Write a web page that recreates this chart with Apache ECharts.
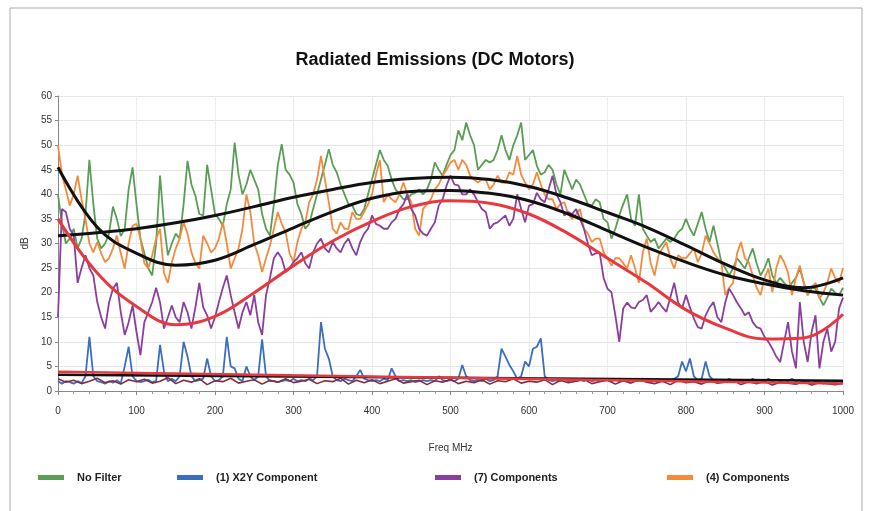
<!DOCTYPE html>
<html>
<head>
<meta charset="utf-8">
<script src="https://cdn.jsdelivr.net/npm/echarts@6/dist/echarts.min.js"></script>
<style>
  html, body { margin: 0; padding: 0; background: #fff; }
  #chart { width: 870px; height: 511px; }
</style>
</head>
<body>
<div id="chart"></div>
<script>
// 频率步长 (MHz)
const stepMHz = 5
const trendStep = 50

// No Filter, 0..1000 MHz every 5 MHz
const noFilter = [
  40, 34, 30, 31, 33, 29, 31, 36, 47, 38, 31, 29, 30, 32, 37.5, 35, 31.5, 33, 41, 45.5,
  38, 31, 28, 25, 23.5, 30, 43.8, 34, 27.6, 30, 32, 31, 38, 46.8, 42, 39.7, 36, 35.7, 46, 41,
  36, 35, 33.6, 38, 41, 50.5, 44, 40, 42, 45, 43, 41, 36, 33, 31.6, 38, 46, 50.2, 45, 44,
  42.4, 38, 36, 33, 34, 37, 40, 43, 46, 49.2, 46, 44.5, 42, 40, 38, 37.7, 36, 35.7, 37, 40,
  43, 46, 49, 47, 45.8, 43, 41, 40, 39, 39, 40, 40.3, 41, 40, 41, 43, 46.5, 45, 43.8, 46,
  48, 49, 53, 51, 54.6, 52, 50, 45, 46, 47, 46.5, 47, 49, 52, 49, 47, 50, 52, 54.6, 47,
  48, 49, 45.8, 44, 44.5, 46, 45, 42, 40, 45, 43, 41, 43, 42, 40, 38, 37.7, 39, 38.4, 35,
  34.3, 31, 33, 35.7, 38, 40, 35, 33.6, 40, 33, 31.6, 30.3, 31, 29, 30, 31, 30.3, 31, 32.3, 33,
  35, 33, 31.6, 34, 36.4, 33, 30.3, 33.6, 30, 26.2, 25, 23.5, 25, 27, 26, 24.9, 27, 29, 26, 23.5,
  25, 27, 23.5, 22, 23, 22, 21, 22, 23, 24.9, 22, 19.5, 21, 20.8, 19, 17.4, 19, 20.8, 20, 19.5,
  21
]

// (1) X2Y Component
const x2yComponent = [
  2, 1.5, 2, 1.8, 1.5, 2, 1.6, 3, 11, 3, 2, 1.8, 1.5, 2, 1.7, 2.2, 1.6, 5, 9, 3,
  2, 1.8, 2, 2.3, 1.8, 2, 9.4, 4, 2, 2.5, 2, 3, 10, 7, 3, 2, 2.2, 2.5, 6.6, 3,
  2, 2.2, 3, 11, 5, 4.6, 2.5, 2, 5, 3, 2.2, 3, 10.5, 3, 2, 2, 1.8, 2, 2.2, 2,
  2.5, 2, 2.2, 2, 2.5, 2.2, 3, 14, 8.6, 6.6, 3, 2.2, 2, 2.5, 2.2, 2, 3, 4.3, 2.5, 2.2,
  2, 2.2, 2, 2.5, 2.2, 4.6, 3, 2, 2.2, 2, 2.2, 1.8, 2, 2.2, 2, 2.2, 2, 3, 2.2, 2,
  2.2, 2, 2.5, 5.3, 3, 2.2, 2, 2.2, 2, 2.5, 2, 2.2, 3, 8.6, 7, 5.3, 4, 2.5, 3, 6,
  5, 8.6, 9, 10.7, 3, 2.2, 2, 2.2, 2, 2.5, 2, 2.2, 2, 2.2, 2, 2.5, 2, 2.2, 2, 2.5,
  2.2, 2, 2.5, 2, 2.2, 2, 2.2, 2, 2.2, 2.5, 2, 2.2, 2, 2.5, 2, 2.2, 2, 2.5, 3, 6,
  4, 6.6, 3, 2.2, 2.5, 6, 3, 2.2, 2, 2.2, 2, 2.5, 2, 2.2, 2, 2.2, 2, 2.5, 2, 2.2,
  2, 2.5, 2, 2.2, 2, 2.2, 2, 2.5, 2, 2.2, 1.8, 2, 1.5, 2, 1.8, 1.5, 2, 1.6, 1.8, 1.5,
  1.8
]

// (7) Components
const sevenComponents = [
  15, 37, 36.4, 33, 31.6, 22, 25, 27.6, 25, 23.5, 18.1, 15, 12.7, 18, 20.8, 22, 16, 11.4, 14, 17.4,
  12, 7.3, 14, 16, 18.1, 21, 18, 12.7, 15, 17.4, 15, 14, 18.1, 16, 12.7, 17, 22, 17, 15.4, 12.7,
  15, 18.1, 21, 23.5, 19.5, 16, 12.7, 16, 18.1, 15.4, 19.5, 14, 11.4, 19.5, 23, 27, 28.2, 27, 24.2, 25,
  26.2, 27, 28.2, 26, 24.9, 28.2, 30, 31, 29, 28.2, 30.3, 29, 28.2, 30, 31, 29, 27.6, 30.3, 32, 33,
  35.7, 34, 33.6, 33, 33, 34.3, 35, 37, 38, 40, 37, 35.7, 33, 32, 31.6, 33, 34.3, 37.7, 39, 41.8,
  43.8, 42, 41.8, 40, 40, 41, 40, 38.4, 37, 36.4, 33, 34, 34.3, 35, 35.7, 33.6, 35, 40, 37, 34.3,
  37.7, 38, 40.3, 39, 38.4, 41, 43.8, 40, 38.4, 35.7, 36.4, 36, 37, 35, 33, 30, 27.6, 28, 28.2, 23,
  20.8, 20.1, 15.4, 10, 16.8, 18, 17, 16.8, 18.1, 18.5, 19.5, 16.1, 17, 18.1, 17, 16.1, 19, 22, 18, 16.8,
  19.5, 17, 14.7, 13, 12.7, 15.4, 17, 18.1, 15, 14, 18, 20.8, 19.5, 18, 16.8, 15.4, 16, 14, 13, 12.7,
  11, 10, 8.6, 7, 5.9, 10, 14, 8, 4.6, 18.1, 10, 5.9, 12, 15.4, 4.6, 10, 12.7, 8, 10, 16.8,
  19
]

// (4) Components
const fourComponents = [
  50, 44, 41, 37.7, 40, 43.8, 39, 35, 30, 28.2, 30.3, 28, 26.2, 27, 29, 31.6, 28, 24.9, 30, 33.6,
  34, 31, 26, 24.9, 27.6, 31, 33, 24, 22, 26.2, 29, 31, 34.3, 32, 28.2, 26, 24.9, 31.6, 30, 28.2,
  29, 31, 34.3, 30, 24.9, 27, 29, 33, 40, 36.4, 30, 27.6, 24.2, 27, 29.6, 33, 36.4, 34, 32.3, 28,
  26.2, 30.3, 33, 34.3, 38.4, 40, 43, 47.8, 43, 38.4, 33, 32, 34.3, 33, 33, 36.4, 35, 35, 36.4, 38,
  40, 44, 47, 38.4, 40, 39, 38.4, 40, 42.4, 40, 38.4, 33, 31.6, 37, 38, 39, 41, 42, 43.8, 45,
  46.5, 47, 45, 47, 46, 43.8, 43, 42.4, 43, 43, 41, 42, 43.8, 42.4, 42.4, 44.5, 44, 47.8, 44, 42.4,
  41, 42, 44.5, 42, 40, 39, 39, 37, 38, 38.4, 36, 35, 36, 37, 33, 32, 30.3, 31, 31, 28.2,
  27, 25.5, 27, 27, 26, 24.9, 27.6, 25, 22, 28.2, 31, 26, 23.5, 27.6, 29, 30.3, 27, 24.9, 27.6, 27,
  27, 28, 29, 26.2, 28, 31.6, 30, 28.2, 27, 26.2, 19.5, 21, 22, 28, 30.3, 27, 26.2, 23.5, 21, 19.5,
  23, 24.9, 20.1, 25, 27.6, 26.2, 24, 19.5, 23, 25.5, 22, 19.5, 21, 22, 18.8, 20, 22, 24.9, 23, 22,
  25
]

// 底部噪声 (no legend entry), every 10 MHz
const floorStep = 10
const floorTrace = [
  2.5, 1.8, 2.2, 1.5, 2.0, 2.6, 1.7, 2.1, 1.4, 2.3, 1.9, 2.4, 1.6, 2.0, 2.7, 1.5, 2.2, 1.8, 2.5, 1.3,
  2.1, 1.9, 2.6, 1.6, 2.0, 2.3, 1.4, 2.2, 1.8, 2.5, 1.7, 2.0, 2.4, 1.5, 2.1, 1.9, 2.6, 1.4, 2.2, 1.7,
  2.3, 1.5, 2.0, 2.5, 1.6, 1.9, 2.2, 1.3, 2.1, 1.8, 2.4, 1.5, 2.0, 1.7, 2.3, 1.4, 2.1, 1.9, 2.5, 1.6,
  2.0, 1.8, 2.3, 1.3, 2.2, 1.7, 2.0, 2.4, 1.5, 1.9, 2.2, 1.4, 2.1, 1.6, 2.3, 1.8, 1.5, 2.0, 1.3, 2.2,
  1.7, 1.9, 1.4, 2.1, 1.6, 1.8, 2.2, 1.3, 1.9, 1.5, 2.0, 1.2, 1.8, 1.6, 1.4, 1.9, 1.2, 1.7, 1.5, 1.3,
  1.6
]

// 趋势线 every 50 MHz
const trendNoFilter = [31.6, 32.2, 33, 34.2, 35.7, 37.5, 39.4, 41, 42.4, 43.2, 43.5, 43, 41.6, 39.2, 36.3, 33.3, 29.6, 25.8, 22.6, 21, 23]
const trendFour = [45.5, 33.3, 28, 25.6, 26.6, 29.8, 33.2, 36.5, 39.2, 40.6, 40.8, 40.2, 38.7, 36, 32.6, 29.2, 26.2, 23.6, 21.8, 20.4, 19.5]
const trendSeven = [35, 24, 17.2, 13.5, 15.2, 20, 25.5, 30.5, 34.5, 37.5, 38.7, 38.2, 36, 32, 27, 22, 16.5, 12.8, 10.6, 10.8, 15.6]
// low level trends every 250 MHz
const lowStep = 250
const trendX2Y = [3.3, 3.0, 2.7, 2.4, 2.1]
const trendFloor = [3.9, 3.3, 2.7, 2.1, 1.5]

const toPairs = (arr, step) => arr.map((v, i) => [i * step, v])

const dom = document.getElementById('chart')
const myChart = echarts.init(dom)

const font = 'Liberation Sans, Arial, sans-serif'
const legendBase = {
  bottom: 23,
  icon: 'rect',
  itemWidth: 26,
  itemHeight: 5,
  itemGap: 0,
  textStyle: { fontFamily: font, fontSize: 11, fontWeight: 'bold', color: '#222', padding: [0, 0, 0, 8] }
}

const option = {
  animation: false,
  backgroundColor: '#fff',
  title: {
    text: 'Radiated Emissions (DC Motors)',
    left: 'center',
    top: 46,
    textStyle: { fontFamily: font, fontSize: 18, fontWeight: 'bold', color: '#111' }
  },
  graphic: [{
    type: 'rect',
    shape: { x: 10, y: 8, width: 852, height: 520 },
    style: { fill: 'none', stroke: '#aaa', lineWidth: 1 },
    silent: true
  }],
  legend: [
    Object.assign({ left: 33, data: ['No Filter'] }, legendBase),
    Object.assign({ left: 172, data: ['(1) X2Y Component'] }, legendBase),
    Object.assign({ left: 430, data: ['(7) Components'] }, legendBase),
    Object.assign({ left: 662, data: ['(4) Components'] }, legendBase)
  ],
  grid: { left: 58, right: 27, top: 96, bottom: 120 },
  xAxis: {
    type: 'value',
    min: 0,
    max: 1000,
    interval: 100,
    name: 'Freq MHz',
    nameLocation: 'middle',
    nameGap: 52,
    nameTextStyle: { fontFamily: font, fontSize: 10, color: '#333' },
    axisLine: { lineStyle: { color: '#888' } },
    axisTick: { show: true, length: 4, lineStyle: { color: '#888' } },
    minorTick: { show: true, splitNumber: 5, length: 3, lineStyle: { color: '#999' } },
    axisLabel: { fontFamily: font, fontSize: 10, color: '#333', margin: 15, formatter: (v) => String(v) },
    splitLine: { show: true, lineStyle: { color: '#ececec' } }
  },
  yAxis: {
    type: 'value',
    min: 0,
    max: 60,
    interval: 5,
    name: 'dB',
    nameLocation: 'middle',
    nameGap: 28,
    nameRotate: 90,
    nameTextStyle: { fontFamily: font, fontSize: 10, color: '#333' },
    axisLine: { show: true, lineStyle: { color: '#888' } },
    axisTick: { show: true, length: 3, lineStyle: { color: '#888' } },
    axisLabel: { fontFamily: font, fontSize: 10, color: '#333', margin: 6 },
    splitLine: { show: true, lineStyle: { color: '#e6e6e6' } }
  },
  series: [
    {
      name: 'No Filter',
      type: 'line',
      showSymbol: false,
      color: '#5a9e55',
      lineStyle: { width: 1.8 },
      data: toPairs(noFilter, stepMHz)
    },
    {
      name: '(4) Components',
      type: 'line',
      showSymbol: false,
      color: '#f58a3c',
      lineStyle: { width: 1.8 },
      data: toPairs(fourComponents, stepMHz)
    },
    {
      name: '(7) Components',
      type: 'line',
      showSymbol: false,
      color: '#8a3f9e',
      lineStyle: { width: 1.8 },
      data: toPairs(sevenComponents, stepMHz)
    },
    {
      name: '(1) X2Y Component',
      type: 'line',
      showSymbol: false,
      color: '#3a6fc0',
      lineStyle: { width: 1.8 },
      data: toPairs(x2yComponent, stepMHz)
    },
    {
      name: 'floor',
      type: 'line',
      showSymbol: false,
      color: '#8c2a3a',
      lineStyle: { width: 1.6 },
      data: toPairs(floorTrace, floorStep)
    },
    // 趋势线
    {
      name: 'trendNoFilter',
      type: 'line',
      smooth: 0.4,
      showSymbol: false,
      color: '#111',
      lineStyle: { width: 3 },
      data: toPairs(trendNoFilter, trendStep)
    },
    {
      name: 'trendFour',
      type: 'line',
      smooth: 0.4,
      showSymbol: false,
      color: '#111',
      lineStyle: { width: 3 },
      data: toPairs(trendFour, trendStep)
    },
    {
      name: 'trendSeven',
      type: 'line',
      smooth: 0.4,
      showSymbol: false,
      color: '#e8383d',
      lineStyle: { width: 3 },
      data: toPairs(trendSeven, trendStep)
    },
    {
      name: 'trendX2Y',
      type: 'line',
      smooth: true,
      showSymbol: false,
      color: '#111',
      lineStyle: { width: 2.5 },
      data: toPairs(trendX2Y, lowStep)
    },
    {
      name: 'trendFloor',
      type: 'line',
      smooth: true,
      showSymbol: false,
      color: '#e8383d',
      lineStyle: { width: 2.5 },
      data: toPairs(trendFloor, lowStep)
    }
  ]
}
myChart.setOption(option)
</script>
</body>
</html>
